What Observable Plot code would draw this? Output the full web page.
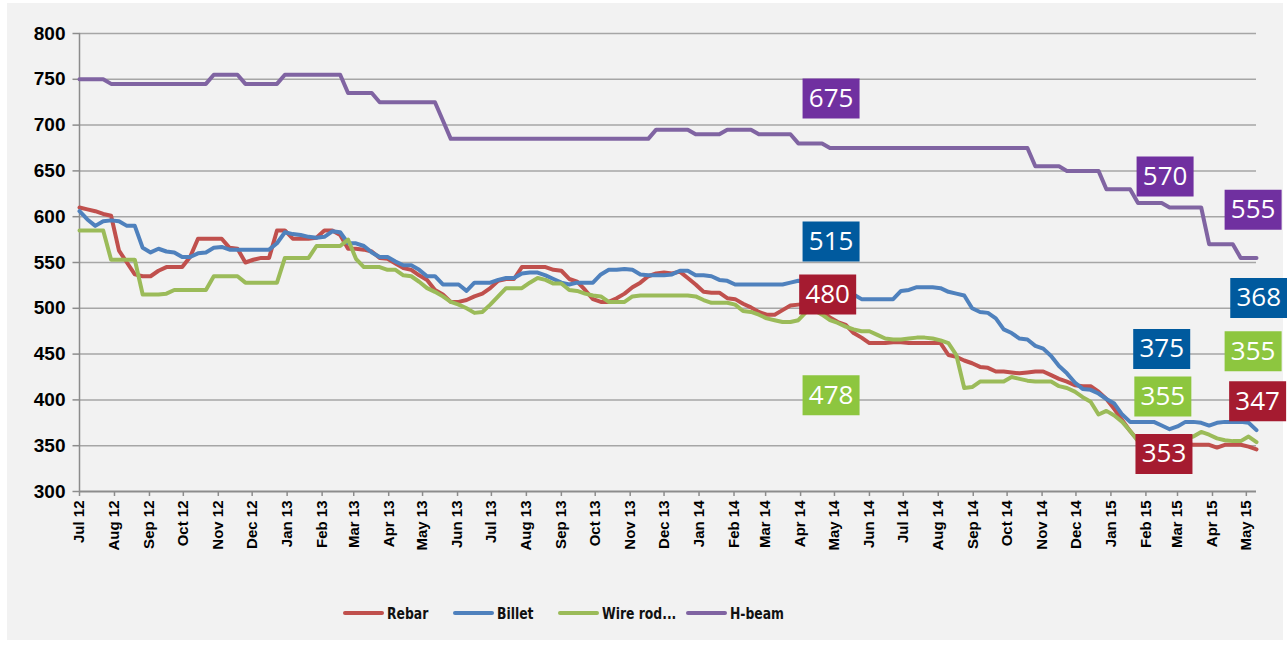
<!DOCTYPE html>
<html><head><meta charset="utf-8">
<script src="https://cdn.jsdelivr.net/npm/d3@7"></script>
<script src="https://cdn.jsdelivr.net/npm/@observablehq/plot@0.6"></script>
<style>
body{margin:0;background:#fff;}
#frame{position:absolute;left:7px;top:3px;width:1276px;height:637px;background:#f2f2f2;}
#chart{position:absolute;left:0;top:0;}
#legend{position:absolute;left:0;top:599px;width:100%;height:22px;font-family:"Liberation Sans Narrow","DejaVu Sans Condensed","Liberation Sans",sans-serif;font-weight:bold;font-size:16px;color:#111;}
.item{position:absolute;top:0;display:flex;align-items:center;height:22px;white-space:nowrap;}
.sw{width:41px;height:4px;border-radius:2px;margin-right:3px;}
.tx{display:inline-block;transform:scaleX(0.86);transform-origin:left center;}
</style></head><body>
<div id="frame"><div id="chart"></div><div id="legend"></div></div>
<script>
// ---- data (weekly, from 1 Jul 2012) ----
const seriesNames = ["Rebar", "Billet", "Wire rod...", "H-beam"];
const seriesColors = ["#c0504d", "#4f81bd", "#9bbb59", "#8064a2"];

const rebar = [
 610,608,606,603,601,563,550,537,535,535,
 541,545,545,545,556,576,576,576,576,566,
 565,550,553,555,555,585,585,576,576,576,
 577,585,585,580,565,565,564,562,555,554,
 549,544,542,536,531,520,515,507,507,509,
 513,516,522,530,532,532,545,545,545,545,
 542,541,532,529,520,510,507,507,511,516,
 523,528,535,538,539,538,540,533,526,518,
 517,517,511,510,505,501,496,493,493,498,
 503,504,505,505,497,490,485,482,473,468,
 462,462,462,463,463,462,462,462,462,462,
 449,447,443,440,436,435,431,431,430,429,
 430,431,431,427,423,420,416,415,415,409,
 401,390,378,366,356,353,353,353,353,352,
 352,351,351,351,348,351,351,351,349,346];

const billet = [
 606,597,590,595,596,595,590,590,566,561,
 565,562,561,556,556,560,561,566,567,564,
 564,564,564,564,564,571,583,581,580,578,
 577,578,584,583,571,571,568,561,556,556,
 551,547,547,542,535,535,526,526,526,519,
 528,528,528,531,533,533,538,539,539,536,
 532,528,526,528,528,528,537,542,542,543,
 542,537,536,536,536,537,541,541,536,536,
 535,531,530,526,526,526,526,526,526,526,
 528,530,528,526,524,522,520,517,515,510,
 510,510,510,510,519,520,523,523,523,522,
 518,516,514,500,496,495,489,477,473,467,
 466,459,456,448,437,429,419,412,411,407,
 401,396,384,376,376,376,376,372,368,371,
 376,376,375,372,375,376,376,376,375,367];

const wireRod = [
 585,585,585,585,553,553,553,553,515,515,
 515,516,520,520,520,520,520,535,535,535,
 535,528,528,528,528,528,555,555,555,555,
 568,568,568,568,575,554,545,545,545,542,
 542,536,535,529,522,518,513,507,504,500,
 495,496,504,513,522,522,522,528,533,531,
 527,527,520,519,516,514,513,507,507,507,
 513,514,514,514,514,514,514,514,513,509,
 506,506,506,504,497,496,493,489,487,485,
 485,487,496,498,493,487,484,480,477,475,
 475,471,467,466,466,467,468,468,467,465,
 462,449,413,414,420,420,420,420,425,423,
 421,420,420,420,415,413,409,403,398,384,
 388,383,376,366,355,352,350,350,352,355,
 358,360,365,362,358,356,355,355,360,354];

const hBeam = [
 750,750,750,750,745,745,745,745,745,745,
 745,745,745,745,745,745,745,755,755,755,
 755,745,745,745,745,745,755,755,755,755,
 755,755,755,755,735,735,735,735,725,725,
 725,725,725,725,725,725,705,685,685,685,
 685,685,685,685,685,685,685,685,685,685,
 685,685,685,685,685,685,685,685,685,685,
 685,685,685,695,695,695,695,695,690,690,
 690,690,695,695,695,695,690,690,690,690,
 690,680,680,680,680,675,675,675,675,675,
 675,675,675,675,675,675,675,675,675,675,
 675,675,675,675,675,675,675,675,675,675,
 675,655,655,655,655,650,650,650,650,650,
 630,630,630,630,615,615,615,615,610,610,
 610,610,610,570,570,570,570,555,555,555];

const yTicks = [300, 350, 400, 450, 500, 550, 600, 650, 700, 750, 800];

// callout boxes
const labelTexts  = ["675", "515", "480", "478", "570", "375", "355", "353", "555", "368", "355", "347"];
const labelDates  = ["2014-04-28", "2014-04-28", "2014-04-25", "2014-04-28", "2015-02-18", "2015-02-15", "2015-02-16", "2015-02-17", "2015-05-07", "2015-05-12", "2015-05-07", "2015-05-11"];
const labelValues = [729, 573, 515, 405, 644, 455.5, 403.6, 341, 607.7, 511.3, 453, 398.5];
const labelColors = ["#7030a0", "#005a9e", "#a51b30", "#8dc63f", "#7030a0", "#005a9e", "#8dc63f", "#a51b30", "#7030a0", "#005a9e", "#8dc63f", "#a51b30"];

// ---- build ----
const DAY = 864e5;
const start = new Date(Date.UTC(2012, 6, 1));
const dates = hBeam.map((_, i) => new Date(start.getTime() + i * 7 * DAY));
const end = dates[dates.length - 1];
const monthTicks = d3.utcMonths(start, new Date(end.getTime() + DAY));
const allSeries = [rebar, billet, wireRod, hBeam];

const labels = labelTexts.map((t, i) => ({text: t, date: new Date(labelDates[i]), value: labelValues[i], color: labelColors[i]}));

const boxSymbol = {draw(ctx) { ctx.moveTo(-28.5, -20); ctx.lineTo(28.5, -20); ctx.lineTo(28.5, 20); ctx.lineTo(-28.5, 20); ctx.closePath(); }};
const yTickSymbol = {draw(ctx) { ctx.moveTo(-7, 0); ctx.lineTo(0, 0); }};

const chart = Plot.plot({
  width: 1276, height: 563,
  marginLeft: 72, marginRight: 27, marginTop: 30, marginBottom: 75,
  style: {fontFamily: "'Liberation Sans', Arial, sans-serif", fontSize: "15px", fontWeight: "bold", background: "transparent", overflow: "visible", color: "#000"},
  x: {type: "utc", domain: [start, end], ticks: monthTicks, tickFormat: d3.utcFormat("%b %y"), tickRotate: -90, tickSize: 5, tickPadding: 4, label: null},
  y: {domain: [300, 800], axis: null},
  color: {type: "identity"},
  marks: [
    Plot.ruleY(yTicks.filter(v => v > 300), {stroke: "#a6a6a6", strokeWidth: 1.5}),
    Plot.ruleX([start], {stroke: "#8c8c8c", strokeWidth: 1.5}),
    Plot.ruleY([300], {stroke: "#8c8c8c", strokeWidth: 2}),
    Plot.dot(yTicks, {y: d => d, frameAnchor: "left", symbol: yTickSymbol, stroke: "#8c8c8c", strokeWidth: 1.5, r: 5}),
    Plot.text(yTicks, {y: d => d, frameAnchor: "left", text: d => String(d), textAnchor: "end", dx: -14, fontSize: 19, fontWeight: "bold", fill: "#000"}),
    ...allSeries.map((vals, k) => Plot.line(vals.map((v, i) => ({date: dates[i], value: v})),
      {x: "date", y: "value", stroke: seriesColors[k], strokeWidth: 4, strokeLinejoin: "round", strokeLinecap: "round"})),
    Plot.dot(labels, {x: "date", y: "value", symbol: boxSymbol, fill: "color", r: 10}),
    Plot.text(labels, {x: "date", y: "value", text: "text", fill: "white", fontSize: 26, fontWeight: "normal", fontFamily: "'Open Sans', sans-serif"})
  ]
});
document.getElementById("chart").appendChild(chart);

chart.querySelectorAll('[aria-label^="x-axis"] text').forEach(t => { t.style.fontSize = "15px"; });
chart.querySelectorAll('[aria-label^="x-axis"] path, [aria-label^="x-axis"] line').forEach(p => { p.setAttribute("stroke", "#8c8c8c"); p.style.stroke = "#8c8c8c"; p.style.strokeWidth = "1.5"; });

// legend
const legendLefts = [336, 446, 551, 679];
const legend = document.getElementById("legend");
seriesNames.forEach((n, k) => {
  const it = document.createElement("div");
  it.className = "item";
  it.style.left = legendLefts[k] + "px";
  const sw = document.createElement("span");
  sw.className = "sw";
  sw.style.background = seriesColors[k];
  const tx = document.createElement("span");
  tx.className = "tx";
  tx.textContent = n;
  it.appendChild(sw); it.appendChild(tx);
  legend.appendChild(it);
});
</script></body></html>
